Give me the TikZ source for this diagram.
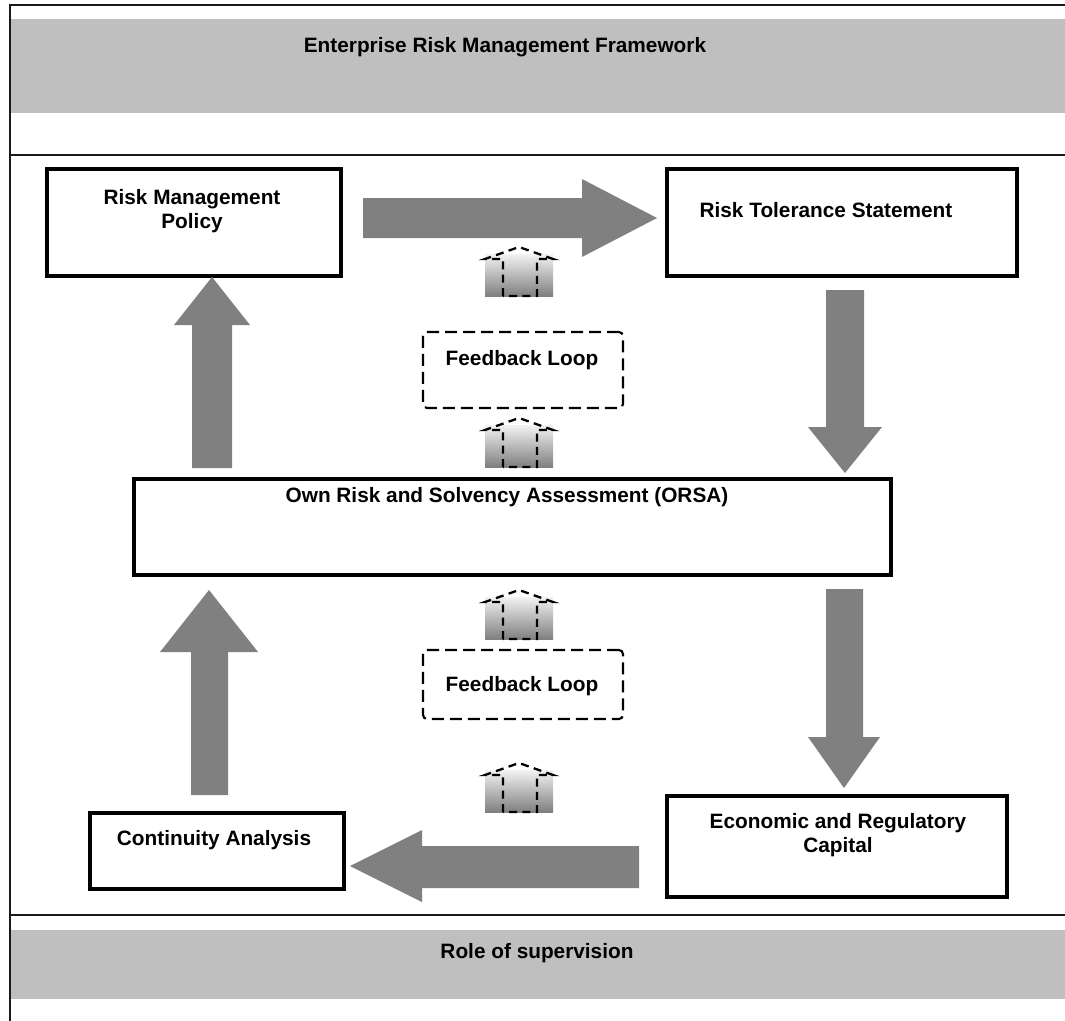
\documentclass[tikz,border=0pt]{standalone}
\usepackage{fontspec}
\setmainfont{Liberation Sans}
\usetikzlibrary{fit}
\newcommand\fbarrow[1]{%
  \begin{scope}[shift={(0,#1)}]
    \shade[top color=black!5, bottom color=black!50] (485,7) rectangle (553,49);
    \draw[sarrow] (503,49) -- (503,12) -- (485,12) -- (519,0) -- (553,12) -- (537,12) -- (537,49) -- cycle;
  \end{scope}}
\begin{document}
\begin{tikzpicture}[x=0.75pt,y=-0.75pt,
  frameline/.style={line width=1.5pt, draw=black!90},
  band/.style={fill=black!25, draw=none},
  box/.style={draw=black, line width=3.6pt, fill=white, rectangle, inner sep=0pt},
  lbl/.style={font=\fontsize{15.6}{18.5}\selectfont\bfseries, align=center, inner sep=0pt},
  blk/.style={fill=black!50, draw=none},
  fb/.style={draw=black, line width=1.6pt, dash pattern=on 9pt off 4.5pt, rounded corners=3pt, inner sep=0pt},
  sarrow/.style={draw=black, line width=1.7pt, dash pattern=on 6pt off 4pt},
]
\useasboundingbox (0,0) rectangle (1065,1021);
\fill[white] (0,0) rectangle (1065,1021);

% frame and bands
\fill[band] (11,19) rectangle (1065,113);
\fill[band] (11,930) rectangle (1065,999);
\draw[frameline] (10,5) -- (1065,5);
\draw[frameline] (10,155) -- (1065,155);
\draw[frameline] (10,915) -- (1065,915);
\draw[frameline] (10,4) -- (10,1021);
\node[lbl] (title) at (505,47) {Enterprise Risk Management Framework};
\node[lbl] (role) at (537,953) {Role of supervision};

% boxes
\node[box, fit={(47,169) (341,276)}] (rmp) {};
\node[lbl] (rmpT) at (192,211) {Risk Management\\Policy};
\node[box, fit={(667,169) (1017,276)}] (rts) {};
\node[lbl] (rtsT) at (826,210) {Risk Tolerance Statement};
\node[box, fit={(134,479) (891,575)}] (orsa) {};
\node[lbl] (orsaT) at (507,497) {Own Risk and Solvency Assessment (ORSA)};
\node[box, fit={(90,813) (344,889)}] (cont) {};
\node[lbl] (contT) at (214,840) {Continuity Analysis};
\node[box, fit={(667,796) (1007,897)}] (econ) {};
\node[lbl] (econT) at (838,835) {Economic and Regulatory\\Capital};

% feedback boxes
\node[fb, fit={(423,332) (623,408)}] (fb1) {};
\node[lbl] (fb1T) at (522,360) {Feedback Loop};
\node[fb, fit={(423,650) (623,719)}] (fb2) {};
\node[lbl] (fb2T) at (522,686) {Feedback Loop};

% block arrows
\fill[blk] (363,198) -- (582,198) -- (582,179) -- (657,218) -- (582,257) -- (582,238) -- (363,238) -- cycle;
\fill[blk] (826,290) -- (864,290) -- (864,427) -- (882,427) -- (845,473) -- (808,427) -- (826,427) -- cycle;
\fill[blk] (192,468) -- (192,325) -- (174,325) -- (212,277) -- (250,325) -- (232,325) -- (232,468) -- cycle;
\fill[blk] (826,589) -- (863,589) -- (863,737) -- (880,737) -- (844,788) -- (808,737) -- (826,737) -- cycle;
\fill[blk] (191,795) -- (191,652) -- (160,652) -- (209,590) -- (258,652) -- (228,652) -- (228,795) -- cycle;
\fill[blk] (639,846) -- (422,846) -- (422,830) -- (350,866) -- (422,902) -- (422,888) -- (639,888) -- cycle;

% small feedback arrows
\fbarrow{247}
\fbarrow{418}
\fbarrow{590}
\fbarrow{763}
\end{tikzpicture}
\end{document}
